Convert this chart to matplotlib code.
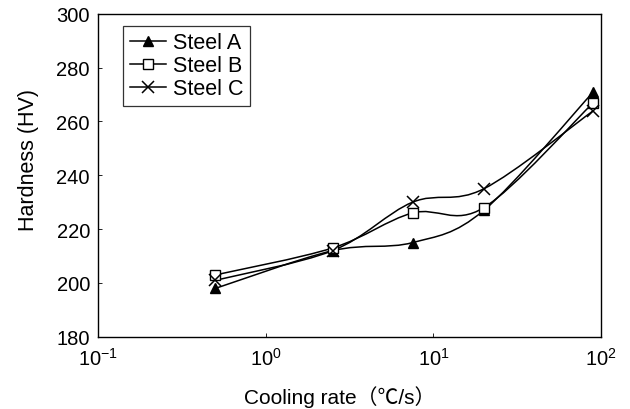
import matplotlib

matplotlib.use("Agg")
import matplotlib.pyplot as plt  # noqa: E402
import numpy as np  # noqa: E402
from matplotlib.path import Path  # noqa: E402
from matplotlib.patches import PathPatch  # noqa: E402

cooling_rate = [0.5, 2.5, 7.5, 20.0, 90.0]
steel_a = [198, 212, 215, 227, 271]
steel_b = [203, 213, 226, 228, 267]
steel_c = [201, 212, 230, 235, 264]
series_names = ["Steel A", "Steel B", "Steel C"]
y_ticks = [180, 200, 220, 240, 260, 280, 300]
x_ticks = [0.1, 1, 10, 100]
x_tick_labels = ["$10^{-1}$", "$10^{0}$", "$10^{1}$", "$10^{2}$"]

plt.rcParams.update(
    {
        "font.family": ["Liberation Sans", "Noto Sans CJK JP", "DejaVu Sans"],
        "mathtext.fontset": "custom",
        "mathtext.rm": "Liberation Sans",
        "mathtext.it": "Liberation Sans",
        "font.size": 15,
        "figure.facecolor": "white",
        "axes.facecolor": "white",
    }
)


def _smooth_path(xs, ys):
    """Excel-style smoothed line (Catmull-Rom beziers) built in log-x space."""
    lx = np.log10(np.asarray(xs, dtype=float))
    yv = np.asarray(ys, dtype=float)
    n = len(lx)
    verts = [(xs[0], ys[0])]
    codes = [Path.MOVETO]
    for i in range(n - 1):
        i0 = max(i - 1, 0)
        i3 = min(i + 2, n - 1)
        c1 = (lx[i] + (lx[i + 1] - lx[i0]) / 6, yv[i] + (yv[i + 1] - yv[i0]) / 6)
        c2 = (lx[i + 1] - (lx[i3] - lx[i]) / 6, yv[i + 1] - (yv[i3] - yv[i]) / 6)
        verts += [(10 ** c1[0], c1[1]), (10 ** c2[0], c2[1]), (xs[i + 1], ys[i + 1])]
        codes += [Path.CURVE4] * 3
    return Path(verts, codes)


fig = plt.figure(figsize=(6.3, 4.1), dpi=100)
ax = fig.add_axes([0.156, 0.176, 0.798, 0.788])

styles = [
    dict(marker="^", markerfacecolor="black", markersize=7),
    dict(marker="s", markerfacecolor="white", markersize=7),
    dict(marker="x", markerfacecolor="black", markersize=9, markeredgewidth=1.1),
]
for name, vals, st in zip(series_names, [steel_a, steel_b, steel_c], styles):
    # smoothed line like the spreadsheet original, markers on top
    ax.add_patch(
        PathPatch(_smooth_path(cooling_rate, vals), facecolor="none", edgecolor="black", lw=1.1)
    )
    ax.plot(cooling_rate, vals, linestyle="none", color="black",
            markeredgecolor="black", label=name, zorder=3, **st)

handles = [
    plt.Line2D([], [], color="black", lw=1.1, markeredgecolor="black", **st) for st in styles
]
leg = ax.legend(
    handles,
    series_names,
    loc="upper left",
    bbox_to_anchor=(0.05, 0.963),
    fontsize=15.5,
    frameon=True,
    fancybox=False,
    edgecolor="black",
    handlelength=1.7,
    handletextpad=0.3,
    labelspacing=0.1,
    borderpad=0.3,
    borderaxespad=0.0,
)
leg.get_frame().set_linewidth(0.9)

ax.set_xscale("log")
ax.set_xlim(0.1, 100)
ax.set_ylim(180, 300)
ax.set_yticks(y_ticks)
ax.set_xticks(x_ticks)
ax.set_xticklabels(x_tick_labels)
ax.minorticks_off()
ax.tick_params(axis="both", direction="in", length=3, width=0.6, labelsize=14.5)
ax.tick_params(axis="x", pad=7)
ax.tick_params(axis="y", pad=6)
for sp in ax.spines.values():
    sp.set_linewidth(1.0)

ax.set_ylabel("Hardness (HV)", fontsize=15.5)
ax.yaxis.set_label_coords(-0.117, 0.55)
ax.set_xlabel("Cooling rate（℃/s）", fontsize=15)
ax.xaxis.set_label_coords(0.48, -0.15)

fig.savefig("out.png", dpi=100)
